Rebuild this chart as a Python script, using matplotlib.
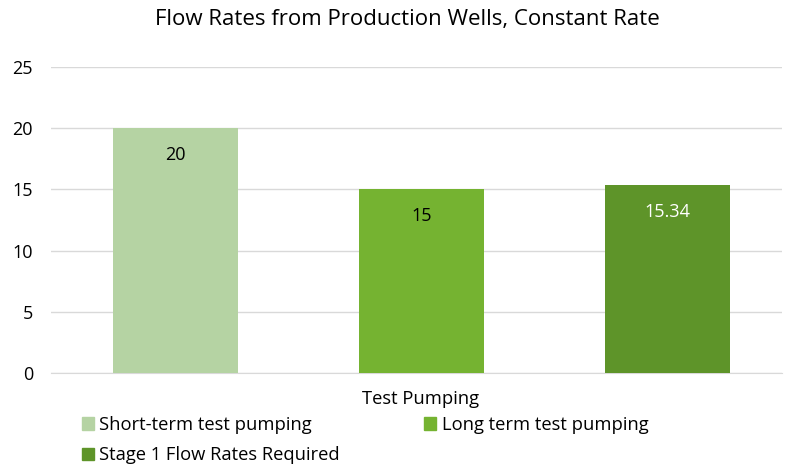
import numpy as np
import matplotlib as mpl
import matplotlib.pyplot as plt
from matplotlib.patches import Patch

mpl.rcParams.update({"font.family": ["Open Sans", "DejaVu Sans"]})

series = ["Short-term test pumping", "Long term test pumping", "Stage 1 Flow Rates Required"]
values = [20, 15, 15.34]
value_labels = ["20", "15", "15.34"]
category = "Test Pumping"
yticks = [0, 5, 10, 15, 20, 25]

colors = ["#B5D3A3", "#75B331", "#5E9429"]
label_colors = ["black", "black", "white"]

fig = plt.figure(figsize=(7.86, 4.66), dpi=100)
ax = fig.add_axes([51 / 786, 1 - 373 / 466, (782 - 51) / 786, (373 - 67) / 466])

x = np.arange(len(values))
bars = ax.bar(x, values, width=0.51, color=colors, zorder=3)
for b, lab, c in zip(bars, value_labels, label_colors):
    ax.text(b.get_x() + b.get_width() / 2, b.get_height() - 2.2, lab,
            ha="center", va="center", fontsize=13, color=c, zorder=4)

ax.set_xlim(-0.506, 2.465)
ax.set_ylim(0, 25)
ax.set_yticks(yticks)
ax.tick_params(axis="y", length=0, labelsize=13, pad=13)
ax.set_xticks([])
ax.grid(axis="y", color="#D9D9D9", lw=1, zorder=0)
for s in ["top", "right", "left"]:
    ax.spines[s].set_visible(False)
ax.spines["bottom"].set_color("#D9D9D9")
ax.spines["bottom"].set_zorder(1)

fig.text(421 / 786, 1 - 399 / 466, category, ha="center", va="center", fontsize=13.2)
fig.text(407 / 786, 1 - 19 / 466, "Flow Rates from Production Wells, Constant Rate",
         ha="center", va="center", fontsize=16)

handles = [Patch(color=c) for c in colors]
order = [0, 2, 1]
fig.legend([handles[i] for i in order], [series[i] for i in order], ncol=2,
           loc="upper left", bbox_to_anchor=(82 / 786, 1 - 416 / 466), frameon=False,
           fontsize=13.2, handlelength=0.65, handleheight=0.65, handletextpad=0.3,
           columnspacing=4.6, labelspacing=0.68, borderaxespad=0, borderpad=0)

fig.savefig("out.png", dpi=100)
